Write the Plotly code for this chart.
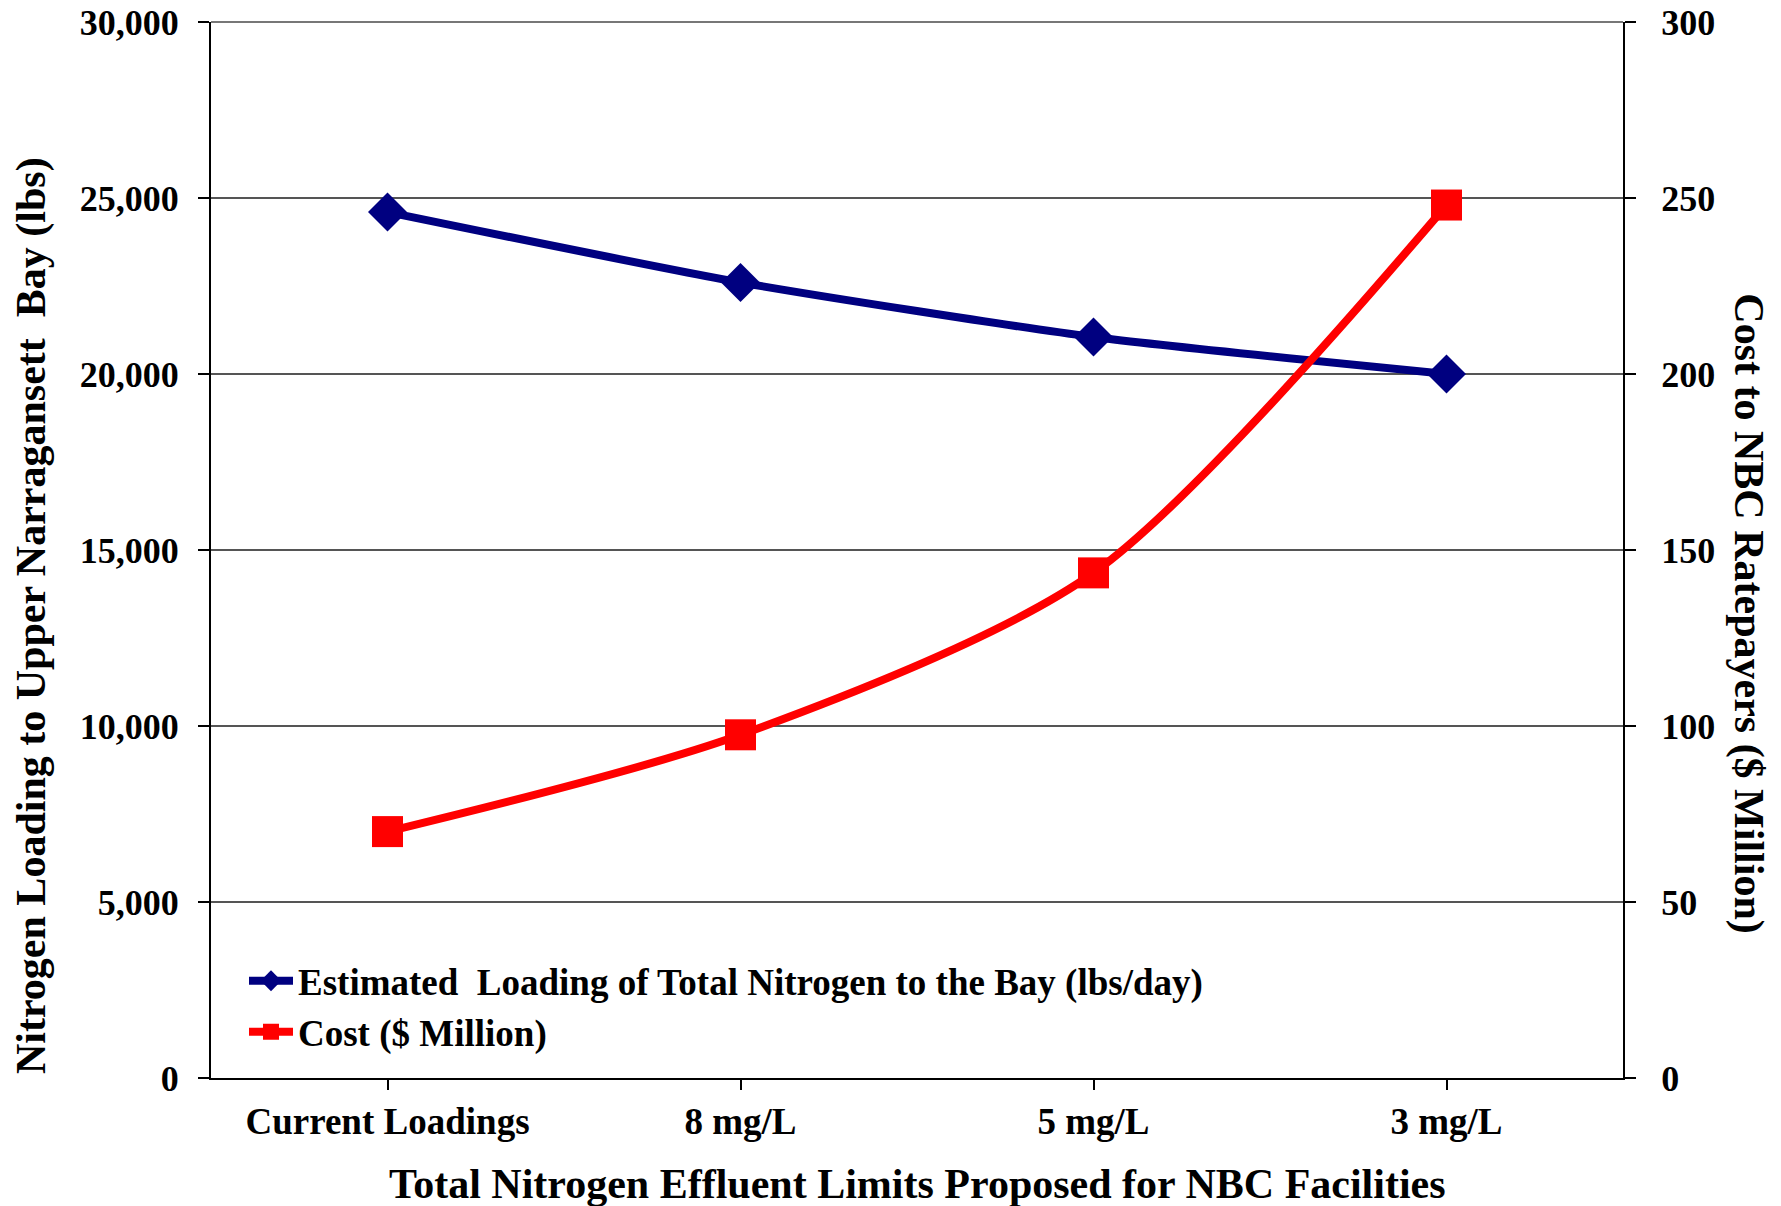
import plotly.graph_objects as go

categories = ["Current Loadings", "8 mg/L", "5 mg/L", "3 mg/L"]
nitrogen_lbs_day = [24600, 22600, 21050, 20000]
cost_million = [70, 97.5, 143.5, 248]

left_ticks = [0, 5000, 10000, 15000, 20000, 25000, 30000]
right_ticks = [0, 50, 100, 150, 200, 250, 300]

FONT = "Liberation Serif, Times New Roman, serif"

fig = go.Figure()
fig.add_trace(go.Scatter(
    x=categories, y=nitrogen_lbs_day,
    name="Estimated\u00a0 Loading of Total Nitrogen to the Bay (lbs/day)",
    mode="lines+markers",
    line=dict(color="#000080", width=8, shape="spline", smoothing=0.6),
    marker=dict(symbol="diamond", size=30, color="#000080"),
    yaxis="y",
))
fig.add_trace(go.Scatter(
    x=categories, y=cost_million,
    name="Cost ($ Million)",
    mode="lines+markers",
    line=dict(color="#FF0000", width=8, shape="spline", smoothing=0.8),
    marker=dict(symbol="square", size=31, color="#FF0000"),
    yaxis="y2",
))

fig.update_layout(
    width=1781, height=1206,
    margin=dict(l=211, r=158, t=22, b=128, autoexpand=False),
    paper_bgcolor="white", plot_bgcolor="white",
    font=dict(family=FONT, size=36, color="black", weight="bold"),
    showlegend=True,
    legend=dict(
        x=(244 - 211) / 1412, y=0.121, xanchor="left", yanchor="top",
        bgcolor="rgba(0,0,0,0)",
        font=dict(family=FONT, size=37, color="black", weight="bold"),
        tracegroupgap=0, itemwidth=44,
    ),
    xaxis=dict(
        type="category", range=[-0.5, 3.5], automargin=False,
        showline=True, linecolor="black", linewidth=2,
        ticks="outside", ticklen=10, tickwidth=2, tickcolor="black",
        showgrid=False, zeroline=False,
        tickfont=dict(family=FONT, size=37, weight="bold"),
    ),
    yaxis=dict(
        range=[0, 30000], tickvals=left_ticks, tickformat=",", automargin=False,
        showline=True, linecolor="black", linewidth=2,
        ticks="outside", ticklen=11, tickwidth=2, tickcolor="black",
        ticklabelstandoff=12,
        showgrid=True, gridcolor="#555555", gridwidth=2,
        zeroline=False,
        tickfont=dict(family=FONT, size=36, weight="bold"),
    ),
    yaxis2=dict(
        range=[0, 300], tickvals=right_ticks, automargin=False,
        overlaying="y", side="right",
        showline=True, linecolor="black", linewidth=2,
        ticks="outside", ticklen=11, tickwidth=2, tickcolor="black",
        ticklabelstandoff=18,
        showgrid=False, zeroline=False,
        tickfont=dict(family=FONT, size=36, weight="bold"),
    ),
    shapes=[
        dict(type="line", xref="paper", yref="paper", x0=0, x1=1, y0=1, y1=1,
             line=dict(color="#777777", width=2), layer="below"),
    ],
    annotations=[
        dict(text="Total Nitrogen Effluent Limits Proposed for NBC Facilities",
             xref="paper", yref="paper", x=0.5, y=0, yshift=-106,
             xanchor="center", yanchor="middle", showarrow=False,
             font=dict(family=FONT, size=42, color="black", weight="bold")),
        dict(text="Nitrogen Loading to Upper Narragansett\u00a0 Bay (lbs)",
             xref="paper", yref="paper", x=0, y=0.4375, xshift=-180,
             xanchor="center", yanchor="middle", textangle=-90, showarrow=False,
             font=dict(family=FONT, size=42, color="black", weight="bold")),
        dict(text="Cost to NBC Ratepayers ($ Million)",
             xref="paper", yref="paper", x=1, y=0.44, xshift=126,
             xanchor="center", yanchor="middle", textangle=90, showarrow=False,
             font=dict(family=FONT, size=42, color="black", weight="bold")),
    ],
)

fig.write_html("out.html", config={"displayModeBar": False},
               post_script="document.body.style.margin='0';")
